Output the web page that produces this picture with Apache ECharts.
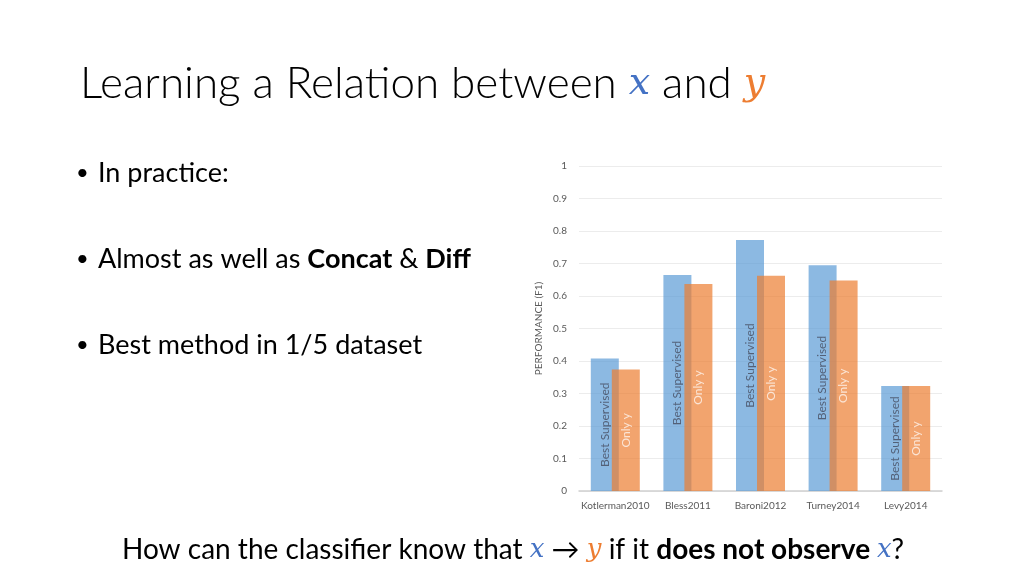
<!DOCTYPE html>
<html>
<head>
<meta charset="utf-8">
<script src="https://cdn.jsdelivr.net/npm/echarts@6/dist/echarts.min.js"></script>
<style>
html,body{margin:0;padding:0;background:#fff;}
#main{width:1024px;height:576px;}
</style>
</head>
<body>
<div id="main"></div>
<script>
var categories = ['Kotlerman2010', 'Bless2011', 'Baroni2012', 'Turney2014', 'Levy2014'];
var bestSupervised = [0.408, 0.665, 0.772, 0.695, 0.323];
var onlyY = [0.374, 0.637, 0.662, 0.648, 0.323];
var yTicks = [0, 0.1, 0.2, 0.3, 0.4, 0.5, 0.6, 0.7, 0.8, 0.9, 1];
var seriesNames = ['Best Supervised', 'Only y'];

var FONT = 'Lato';
var MATH = 'DejaVu Serif';
var chart = echarts.init(document.getElementById('main'));
chart.setOption({
  backgroundColor: '#ffffff',
  animation: false,
  textStyle: { fontFamily: FONT },
  grid: { left: 579, right: 82, top: 166, bottom: 85, containLabel: false },
  xAxis: {
    type: 'category',
    data: categories,
    axisTick: { show: false },
    axisLine: { lineStyle: { color: '#d0d0d0', width: 1.5 } },
    axisLabel: { color: '#595959', fontSize: 10, margin: 10, interval: 0, fontFamily: FONT }
  },
  yAxis: {
    type: 'value',
    min: yTicks[0],
    max: yTicks[yTicks.length - 1],
    interval: 0.1,
    name: 'PERFORMANCE (F1)',
    nameLocation: 'middle',
    nameRotate: 90,
    nameGap: 35,
    nameTextStyle: { color: '#595959', fontSize: 10, fontFamily: FONT },
    axisLine: { show: false },
    axisTick: { show: false },
    axisLabel: { color: '#595959', fontSize: 10, margin: 12, fontFamily: FONT },
    splitLine: { lineStyle: { color: '#ececec', width: 1 } }
  },
  series: [
    {
      name: seriesNames[0],
      type: 'bar',
      data: bestSupervised,
      barWidth: 28,
      barGap: '-25%',
      itemStyle: { color: '#5B9BD5', opacity: 0.7 },
      label: {
        show: true, position: 'inside', rotate: 90,
        formatter: seriesNames[0], color: '#3a3a4a', fontSize: 12, fontFamily: FONT
      }
    },
    {
      name: seriesNames[1],
      type: 'bar',
      data: onlyY,
      barWidth: 28,
      barGap: '-25%',
      itemStyle: { color: '#ED7D31', opacity: 0.7 },
      label: {
        show: true, position: 'inside', rotate: 90,
        formatter: seriesNames[1], color: '#ffffff', fontSize: 12, fontFamily: FONT
      }
    }
  ],
  graphic: [
    {
      type: 'text', left: 80, top: 62,
      style: {
        text: '{a|Learning a Relation between }{x|x}{a| and }{y|y}',
        rich: {
          a: { fontFamily: FONT, fontWeight: 300, fontSize: 44, fill: '#000' },
          x: { fontFamily: MATH, fontStyle: 'italic', fontSize: 38, fill: '#4472C4' },
          y: { fontFamily: MATH, fontStyle: 'italic', fontSize: 38, fill: '#ED7D31' }
        }
      }
    },
    { type: 'text', left: 76, top: 162, style: { text: '•', fontFamily: FONT, fontSize: 22, fill: '#000' } },
    { type: 'text', left: 76, top: 248, style: { text: '•', fontFamily: FONT, fontSize: 22, fill: '#000' } },
    { type: 'text', left: 76, top: 334, style: { text: '•', fontFamily: FONT, fontSize: 22, fill: '#000' } },
    {
      type: 'text', left: 98, top: 160,
      style: { text: 'In practice:', fontFamily: FONT, fontSize: 27, fill: '#000' }
    },
    {
      type: 'text', left: 98, top: 246,
      style: {
        text: '{a|Almost as well as }{b|Concat}{a| & }{b|Diff}',
        rich: {
          a: { fontFamily: FONT, fontSize: 27, fill: '#000' },
          b: { fontFamily: FONT, fontSize: 27, fontWeight: 'bold', fill: '#000' }
        }
      }
    },
    {
      type: 'text', left: 98, top: 332,
      style: { text: 'Best method in 1/5 dataset', fontFamily: FONT, fontSize: 27, fill: '#000' }
    },
    {
      type: 'text', left: 122, top: 536,
      style: {
        text: '{a|How can the classifier know that }{x|x}{a| → }{y|y}{a| if it }{b|does not observe }{x|x}{a|?}',
        rich: {
          a: { fontFamily: FONT, fontSize: 28, fill: '#000' },
          b: { fontFamily: FONT, fontSize: 28, fontWeight: 'bold', fill: '#000' },
          x: { fontFamily: MATH, fontStyle: 'italic', fontSize: 26, fill: '#4472C4' },
          y: { fontFamily: MATH, fontStyle: 'italic', fontSize: 26, fill: '#ED7D31' }
        }
      }
    }
  ]
});
</script>
</body>
</html>
